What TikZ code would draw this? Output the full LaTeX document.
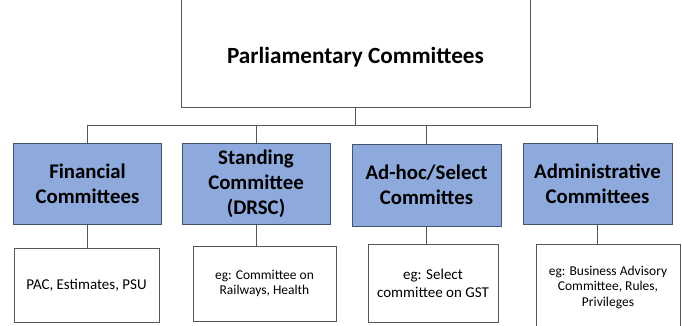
\documentclass[tikz,border=0pt]{standalone}
\usepackage{fontspec}
\setmainfont{Carlito}

\definecolor{headblue}{HTML}{8EA9DB}
\definecolor{headline}{HTML}{44546A}
\definecolor{wire}{HTML}{555555}

\tikzset{
  head/.style={draw=headline, line width=1pt, fill=headblue, inner sep=0pt,
    minimum width=148pt, minimum height=81pt, align=center,
    font=\bfseries\fontsize{20.8}{25}\selectfont},
  egbox/.style={draw=wire, line width=1pt, fill=white, inner sep=0pt,
    align=center, font=\fontsize{13.5}{15.5}\selectfont},
  bus/.style={to path={-- ++(0,18) -| (\tikztotarget)}},
}

\begin{document}
\begin{tikzpicture}[x=1pt,y=-1pt,line width=0.9pt]
    \useasboundingbox (0,0) rectangle (682,325);
    \node[draw=wire, line width=1pt, minimum width=349pt, minimum height=125pt] (pc) at (355.5,44.5) {};
    \node[anchor=base, font=\bfseries\fontsize{23.2}{28}\selectfont] (pct) at (355.5,63) {Parliamentary Committees};

    \node[head] (fin) at (87.5,183.5) {Financial\\Committees};
    \node[head] (std) at (256,183.5) {Standing\\Committee\\(DRSC)};
    \node[head, minimum width=149pt, minimum height=82pt] (adh) at (426.5,185) {Ad-hoc/Select\\Committes};
    \node[head, minimum width=149pt] (adm) at (597.5,183.5) {Administrative\\Committees};

    \node[egbox, minimum width=145pt, minimum height=74pt, font=\fontsize{15}{18}\selectfont] (finx) at (86.5,285) {PAC, Estimates, PSU};
    \node[egbox, minimum width=143pt, minimum height=75pt] (stdx) at (264.5,283.5) {eg: Committee on\\Railways, Health};
    \node[egbox, minimum width=130pt, minimum height=78pt, font=\fontsize{15}{18}\selectfont] (adhx) at (433,283) {eg: Select\\committee on GST};
    \node[egbox, minimum width=144pt, minimum height=86pt] (admx) at (608,287) {eg: Business Advisory\\Committee, Rules,\\Privileges};

    \draw[wire, bus] (pc.south) edge (fin.north) edge (std.north) edge (adh.north) edge (adm.north);
    \draw[wire] (fin.south) -- (fin.south |- finx.north);
    \draw[wire] (std.south) -- (std.south |- stdx.north);
    \draw[wire] (adh.south) -- (adh.south |- adhx.north);
    \draw[wire] (adm.south) -- (adm.south |- admx.north);
\end{tikzpicture}
\end{document}
